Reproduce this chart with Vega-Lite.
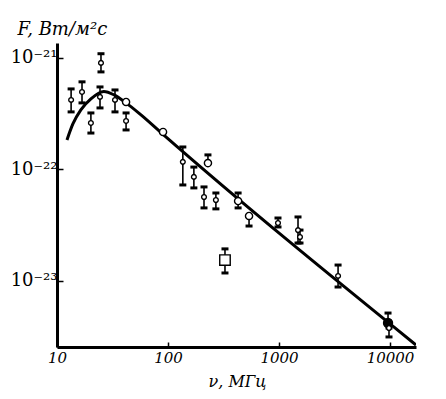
{
  "$schema": "https://vega.github.io/schema/vega-lite/v6.json",
  "width": 359,
  "height": 304,
  "autosize": "none",
  "padding": {"left": 57, "top": 43, "right": 30, "bottom": 52},
  "background": "white",
  "config": {"view": {"stroke": null}, "font": "DejaVu Serif"},
  "datasets": {
    "curve": [
      {"nu": 12.3, "F": 1.84e-22},
      {"nu": 13.9, "F": 2.56e-22},
      {"nu": 16.4, "F": 3.42e-22},
      {"nu": 20.2, "F": 4.29e-22},
      {"nu": 26.4, "F": 5.0e-22},
      {"nu": 32.7, "F": 4.66e-22},
      {"nu": 41.9, "F": 3.95e-22},
      {"nu": 57.1, "F": 3.08e-22},
      {"nu": 86.5, "F": 2.14e-22},
      {"nu": 17140, "F": 2.67e-24}
    ],
    "obs": [
      {"nu": 13.4, "F": 4.2e-22, "lo": 3.28e-22, "hi": 5.27e-22, "group": "open"},
      {"nu": 16.8, "F": 4.95e-22, "lo": 3.95e-22, "hi": 6.1e-22, "group": "open"},
      {"nu": 24.9, "F": 9.02e-22, "lo": 7.49e-22, "hi": 1.09e-21, "group": "open"},
      {"nu": 24.4, "F": 4.47e-22, "lo": 3.56e-22, "hi": 5.49e-22, "group": "open"},
      {"nu": 20.2, "F": 2.61e-22, "lo": 2.12e-22, "hi": 3.21e-22, "group": "open"},
      {"nu": 33.3, "F": 4.2e-22, "lo": 3.28e-22, "hi": 5.16e-22, "group": "open"},
      {"nu": 41.9, "F": 4.03e-22, "group": "large"},
      {"nu": 41.9, "F": 2.72e-22, "lo": 2.26e-22, "hi": 3.21e-22, "group": "open"},
      {"nu": 90.2, "F": 2.17e-22, "group": "large"},
      {"nu": 136, "F": 1.17e-22, "lo": 7.26e-23, "hi": 1.59e-22, "group": "open"},
      {"nu": 229, "F": 1.14e-22, "lo": 1.14e-22, "hi": 1.35e-22, "group": "large"},
      {"nu": 171, "F": 8.57e-23, "lo": 6.83e-23, "hi": 1.05e-22, "group": "open"},
      {"nu": 211, "F": 5.66e-23, "lo": 4.52e-23, "hi": 6.97e-23, "group": "open"},
      {"nu": 270, "F": 5.32e-23, "lo": 4.43e-23, "hi": 6.15e-23, "group": "open"},
      {"nu": 428, "F": 5.21e-23, "lo": 4.52e-23, "hi": 6.15e-23, "group": "large"},
      {"nu": 537, "F": 3.83e-23, "lo": 3.11e-23, "hi": 3.83e-23, "group": "large"},
      {"nu": 326, "F": 1.54e-23, "lo": 1.18e-23, "hi": 1.94e-23, "group": "square"},
      {"nu": 979, "F": 3.31e-23, "lo": 3.05e-23, "hi": 3.67e-23, "group": "open"},
      {"nu": 1483, "F": 2.86e-23, "lo": 2.19e-23, "hi": 3.75e-23, "group": "open"},
      {"nu": 1545, "F": 2.48e-23, "lo": 2.19e-23, "hi": 2.86e-23, "group": "open"},
      {"nu": 3404, "F": 1.11e-23, "lo": 8.83e-24, "hi": 1.39e-23, "group": "open"},
      {"nu": 9594, "F": 4.2e-24, "lo": 4.2e-24, "hi": 5.16e-24, "group": "filled"},
      {"nu": 9790, "F": 3.79e-24, "lo": 3.15e-24, "hi": 3.79e-24, "group": "open"}
    ]
  },
  "encoding": {
    "x": {
      "field": "nu",
      "type": "quantitative",
      "scale": {"type": "log", "domain": [10, 17140]},
      "axis": {
        "values": [10, 100, 1000, 10000],
        "format": "d",
        "domainColor": "black",
        "domainWidth": 3,
        "tickColor": "black",
        "tickSize": -5,
        "tickWidth": 1.5,
        "grid": false,
        "labelFont": "DejaVu Serif",
        "labelFontStyle": "italic",
        "labelFontSize": 15,
        "labelColor": "black",
        "labelPadding": 8,
        "labelFlush": false,
        "title": "ν, МГц",
        "titleFont": "DejaVu Serif",
        "titleFontStyle": "italic",
        "titleFontWeight": "normal",
        "titleFontSize": 16,
        "titleColor": "black",
        "titleX": 180,
        "titleY": 39,
        "titleBaseline": "alphabetic",
        "titleAnchor": "middle"
      }
    },
    "y": {
      "field": "F",
      "type": "quantitative",
      "scale": {"type": "log", "domain": [2.56e-24, 1.36e-21]},
      "axis": {
        "values": [1e-21, 1e-22, 1e-23],
        "labelExpr": "datum.value > 5e-22 ? '10⁻²¹' : datum.value > 5e-23 ? '10⁻²²' : '10⁻²³'",
        "domainColor": "black",
        "domainWidth": 3,
        "tickColor": "black",
        "tickSize": -6,
        "tickWidth": 1.5,
        "grid": false,
        "labelFont": "DejaVu Serif",
        "labelFontSize": 18,
        "labelColor": "black",
        "labelPadding": 6,
        "labelBaseline": "middle",
        "labelFlush": false,
        "title": "F, Вт/м²с",
        "titleFont": "DejaVu Serif",
        "titleFontStyle": "italic",
        "titleFontWeight": "normal",
        "titleFontSize": 18,
        "titleColor": "black",
        "titleAngle": 0,
        "titleAlign": "left",
        "titleBaseline": "alphabetic",
        "titleX": -40,
        "titleY": -9
      }
    }
  },
  "layer": [
    {
      "data": {"name": "curve"},
      "mark": {"type": "line", "color": "black", "strokeWidth": 3, "interpolate": "monotone", "clip": true}
    },
    {
      "data": {"name": "obs"},
      "transform": [{"filter": "isValid(datum.hi)"}],
      "mark": {
        "type": "errorbar",
        "ticks": {"size": 7, "thickness": 3, "color": "black", "opacity": 1},
        "rule": {"strokeWidth": 1.6, "color": "black", "opacity": 1}
      },
      "encoding": {
        "y": {"field": "lo", "type": "quantitative"},
        "y2": {"field": "hi"}
      }
    },
    {
      "data": {"name": "obs"},
      "mark": {"type": "point", "filled": true, "stroke": "black", "strokeWidth": 1.4, "opacity": 1},
      "encoding": {
        "shape": {"field": "group", "type": "nominal", "scale": {"domain": ["open", "large", "filled", "square"], "range": ["circle", "circle", "circle", "square"]}, "legend": null},
        "size": {"field": "group", "type": "nominal", "scale": {"domain": ["open", "large", "filled", "square"], "range": [22, 110, 26, 22]}, "legend": null},
        "fill": {"field": "group", "type": "nominal", "scale": {"domain": ["open", "large", "filled", "square"], "range": ["white", "white", "black", "white"]}, "legend": null}
      }
    }
  ]
}
